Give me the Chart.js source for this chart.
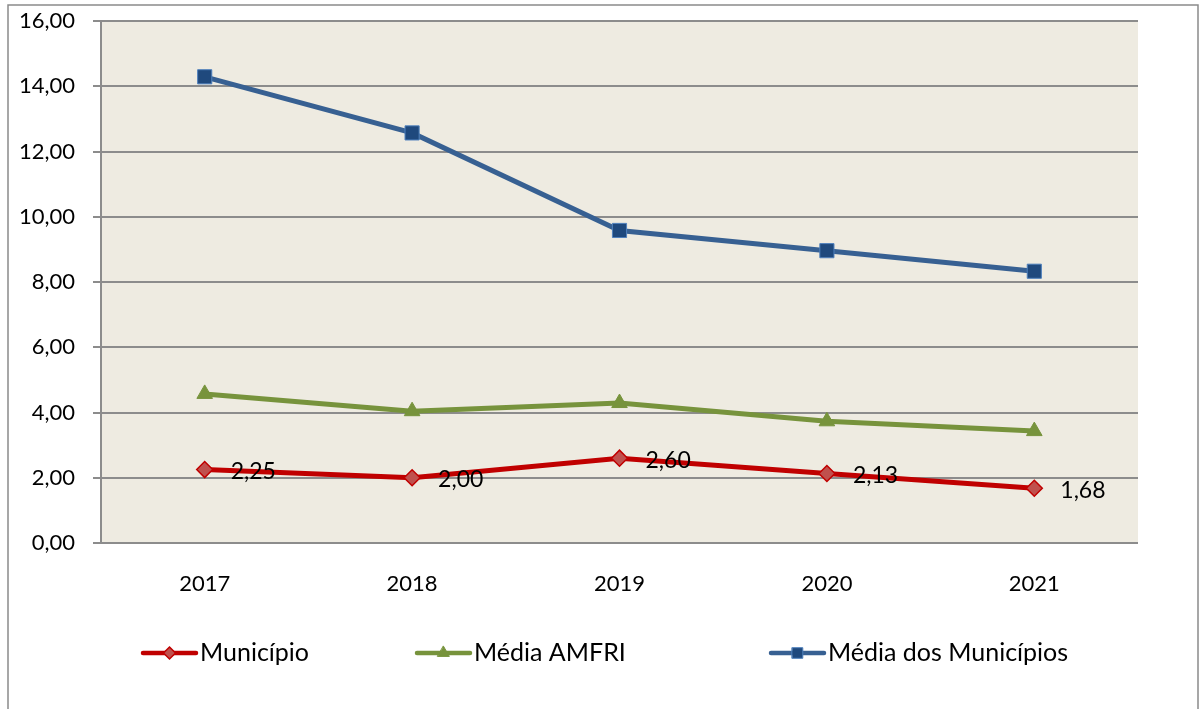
<!DOCTYPE html>
<html>
<head>
<meta charset="utf-8">
<script src="https://cdn.jsdelivr.net/npm/chart.js@4"></script>
<style>
  html, body { margin: 0; padding: 0; background: #fff; overflow: hidden; }
  #wrap { position: relative; width: 1201px; height: 709px; }
</style>
</head>
<body>
<div id="wrap"><canvas id="indicadorChart"></canvas></div>
<script>
const anos = ['2017', '2018', '2019', '2020', '2021'];
const municipio = [2.25, 2.00, 2.60, 2.13, 1.68];
const mediaAmfri = [4.57, 4.04, 4.29, 3.73, 3.43];
const mediaMunicipios = [14.29, 12.57, 9.58, 8.96, 8.33];
const yTicks = [0, 2, 4, 6, 8, 10, 12, 14, 16];

const fonte = 'Lato, "Open Sans", sans-serif';
const gridGrey = '#8c8c8c';
const plotBg = '#EEEBE1';

const fmt = v => v.toFixed(2).replace('.', ',');

// moldura externa + fundo da área do gráfico
const fundo = {
    id: 'fundo',
    beforeDraw(chart) {
        const { ctx, chartArea: a } = chart;
        ctx.save();
        ctx.strokeStyle = '#8a8a8a';
        ctx.lineWidth = 1.5;
        ctx.strokeRect(8, 5, 1190, 720);
        ctx.fillStyle = plotBg;
        ctx.fillRect(a.left, a.top, a.right - a.left, a.bottom - a.top);
        ctx.restore();
    }
};

// rótulos de valor só para a série do município
const rotulos = {
    id: 'rotulos',
    afterDatasetsDraw(chart) {
        const { ctx } = chart;
        const meta = chart.getDatasetMeta(0);
        ctx.save();
        ctx.font = '23px ' + fonte;
        ctx.fillStyle = '#000';
        ctx.textBaseline = 'middle';
        meta.data.forEach((pt, i) => {
            ctx.fillText(fmt(municipio[i]), pt.x + 26, pt.y + 2);
        });
        ctx.restore();
    }
};

function drawShape(ctx, style, r, x, y) {
    if (style === 'rectRot') {
        ctx.moveTo(x, y - r); ctx.lineTo(x + r, y); ctx.lineTo(x, y + r); ctx.lineTo(x - r, y); ctx.closePath();
    } else if (style === 'triangle') {
        const h = r * Math.sqrt(3) / 2;
        ctx.moveTo(x, y - r); ctx.lineTo(x + h, y + r / 2); ctx.lineTo(x - h, y + r / 2); ctx.closePath();
    } else {
        const s = r * Math.SQRT1_2;
        ctx.rect(x - s, y - s, s * 2, s * 2);
    }
}

// legenda desenhada à mão: linha com marcador no meio
const legenda = {
    id: 'legenda',
    afterDraw(chart) {
        const { ctx } = chart;
        const xs = [143, 417, 771];
        const y = 653;
        ctx.save();
        chart.data.datasets.forEach((ds, i) => {
            const x = xs[i];
            ctx.strokeStyle = ds.borderColor;
            ctx.lineWidth = 4.5;
            ctx.lineCap = 'round';
            ctx.beginPath();
            ctx.moveTo(x, y);
            ctx.lineTo(x + 53, y);
            ctx.stroke();
            ctx.fillStyle = ds.pointBackgroundColor;
            ctx.strokeStyle = ds.pointBorderColor;
            ctx.lineWidth = ds.pointBorderWidth;
            ctx.beginPath();
            drawShape(ctx, ds.pointStyle, ds.pointRadius * 0.75, x + 26.5, y);
            ctx.fill();
            ctx.stroke();
            ctx.fillStyle = '#000';
            ctx.font = '25px ' + fonte;
            ctx.textBaseline = 'middle';
            ctx.fillText(ds.label, x + 57, y);
        });
        ctx.restore();
    }
};

new Chart(document.getElementById('indicadorChart'), {
    type: 'line',
    data: {
        labels: anos,
        datasets: [
            {
                label: 'Município', data: municipio,
                borderColor: '#C00000', borderWidth: 5,
                pointStyle: 'rectRot', pointRadius: 8,
                pointBackgroundColor: '#C0504D', pointBorderColor: '#C00000', pointBorderWidth: 1.5
            },
            {
                label: 'Média AMFRI', data: mediaAmfri,
                borderColor: '#77933C', borderWidth: 5,
                pointStyle: 'triangle', pointRadius: 9,
                pointBackgroundColor: '#77933C', pointBorderColor: '#77933C', pointBorderWidth: 1
            },
            {
                label: 'Média dos Municípios', data: mediaMunicipios,
                borderColor: '#376092', borderWidth: 5,
                pointStyle: 'rect', pointRadius: 10,
                pointBackgroundColor: '#1F497D', pointBorderColor: '#4F81BD', pointBorderWidth: 1
            }
        ]
    },
    options: {
        responsive: true,
        maintainAspectRatio: false,
        animation: false,
        layout: { padding: { top: 21, right: 63, bottom: 106, left: 0 } },
        plugins: { legend: { display: false }, tooltip: { enabled: false } },
        scales: {
            x: {
                offset: true,
                grid: { display: false },
                border: { display: false },
                ticks: { color: '#000', font: { family: fonte, size: 22 }, padding: 20 },
                afterFit(scale) { scale.height = 60; }
            },
            y: {
                min: 0, max: 16,
                afterBuildTicks(scale) { scale.ticks = yTicks.map(v => ({ value: v })); },
                grid: { color: gridGrey, lineWidth: 2, tickLength: 8, drawTicks: true },
                border: { display: true, color: gridGrey, width: 2 },
                ticks: { color: '#000', font: { family: fonte, size: 22 }, padding: 18, callback: v => fmt(v) },
                afterFit(scale) {
                    scale.width = 101;
                    scale.paddingTop = 12;
                    scale.paddingBottom = 12;
                }
            }
        }
    },
    plugins: [fundo, rotulos, legenda]
});
</script>
</body>
</html>
